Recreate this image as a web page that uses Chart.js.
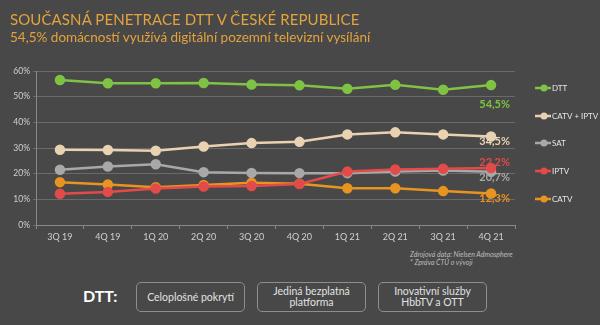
<!DOCTYPE html>
<html>
<head>
<meta charset="utf-8">
<script src="https://cdn.jsdelivr.net/npm/chart.js@4/dist/chart.umd.min.js"></script>
<style>
  html,body{margin:0;padding:0;}
  body{width:600px;height:325px;background:#484848;position:relative;overflow:hidden;font-family:Lato, "Noto Sans", sans-serif;}
  #wrap{position:absolute;left:0;top:0;width:600px;height:250px;}
  .t1{position:absolute;left:10px;top:10px;color:#e3a33d;font-size:15px;letter-spacing:0.1px;white-space:nowrap;}
  .t2{position:absolute;left:10px;top:29px;color:#e3a33d;font-size:13.5px;white-space:nowrap;}
  .fn{position:absolute;left:410px;color:#bdbdbd;font-size:7px;font-style:italic;white-space:nowrap;}
  .dtt{position:absolute;left:83px;top:286px;color:#ffffff;font-weight:bold;font-size:16px;}
  .box{position:absolute;top:282px;width:107px;height:28px;border:1px solid #8e8e8e;border-radius:5px;color:#e2e2e2;font-size:10.5px;display:flex;align-items:center;justify-content:center;text-align:center;line-height:11px;}
</style>
</head>
<body>
<div id="wrap"><canvas id="c" width="600" height="250"></canvas></div>
<div class="t1">SOUČASNÁ PENETRACE DTT V ČESKÉ REPUBLICE</div>
<div class="t2">54,5% domácností využívá digitální pozemní televizní vysílání</div>
<div class="fn" style="top:250px">Zdrojová data: Nielsen Admosphere</div>
<div class="fn" style="top:258px">* Zpráva ČTÚ o vývoji</div>
<div class="dtt">DTT:</div>
<div class="box" style="left:136px">Celoplošné pokrytí</div>
<div class="box" style="left:257px">Jediná bezplatná<br>platforma</div>
<div class="box" style="left:378px">Inovativní služby<br>HbbTV a OTT</div>
<script>
const categories = ["3Q 19","4Q 19","1Q 20","2Q 20","3Q 20","4Q 20","1Q 21","2Q 21","3Q 21","4Q 21"];
const seriesNames = ["DTT","CATV + IPTV","SAT","IPTV","CATV"];
const dtt      = [56.5,55.2,55.2,55.3,54.7,54.4,53.1,54.6,52.7,54.5];
const catvIptv = [29.3,29.2,28.9,30.6,31.9,32.4,35.3,36.1,35.3,34.5];
const sat      = [21.5,22.8,23.7,20.6,20.3,20.2,20.2,20.8,21.2,20.7];
const iptv     = [12.2,12.9,14.2,15.0,15.2,16.0,20.8,21.6,21.9,22.2];
const catv     = [16.7,15.8,14.7,15.6,16.5,16.1,14.3,14.3,13.2,12.3];
const endLabels = ["54,5%","34,5%","20,7%","22,2%","12,3%"];
const yTicks = [0,10,20,30,40,50,60];

const colors = ["#7fc244","#e9d2b2","#a8a8a8","#e34b4b","#e99320"];
const labelOffsets = [19, 5, 6, -6, 5];
const legendY = [88,116,143,171,199];

const values = [dtt, catvIptv, sat, iptv, catv];
const datasets = seriesNames.map((n,i)=>({
  label:n, data:values[i], borderColor:colors[i], backgroundColor:colors[i],
  pointBackgroundColor:colors[i], pointBorderColor:colors[i],
  borderWidth:2.5, pointRadius:4, pointHoverRadius:4, tension:0, order: [1,2,4,3,5][i]
}));

const overlay = {
  id:'overlay',
  afterDatasetsDraw(chart){
    const ctx = chart.ctx;
    ctx.save();
    ctx.font = 'bold 11px Lato, "Noto Sans", sans-serif';
    ctx.textAlign = 'right';
    ctx.textBaseline = 'middle';
    chart.data.datasets.forEach((ds,i)=>{
      const meta = chart.getDatasetMeta(i);
      const p = meta.data[meta.data.length-1];
      ctx.fillStyle = colors[i];
      ctx.fillText(endLabels[i], 510, p.y + labelOffsets[i]);
    });
    ctx.font = '8px Lato, "Noto Sans", sans-serif';
    ctx.textAlign = 'left';
    chart.data.datasets.forEach((ds,i)=>{
      const y = legendY[i];
      ctx.strokeStyle = colors[i];
      ctx.lineWidth = 2.5;
      ctx.beginPath(); ctx.moveTo(535,y); ctx.lineTo(551,y); ctx.stroke();
      ctx.fillStyle = colors[i];
      ctx.beginPath(); ctx.arc(544,y,3.5,0,Math.PI*2); ctx.fill();
      ctx.fillStyle = '#e6e6e6';
      ctx.fillText(ds.label, 552, y+0.5);
    });
    ctx.restore();
  }
};

new Chart(document.getElementById('c'), {
  type:'line',
  data:{labels:categories, datasets},
  options:{
    responsive:false, animation:false,
    layout:{padding:{top:71, right:85, left:0, bottom:0}},
    plugins:{legend:{display:false}, tooltip:{enabled:false}},
    scales:{
      x:{
        offset:true,
        grid:{display:true, drawOnChartArea:false, drawTicks:true, tickLength:4, color:'#8a8a8a', offset:true},
        border:{display:true, color:'#8a8a8a'},
        ticks:{color:'#d0d0d0', font:{size:9, family:'Lato, "Noto Sans", sans-serif'}, padding:3, maxRotation:0},
        afterFit(s){ s.height = 25; }
      },
      y:{
        min:0, max:60,
        afterBuildTicks(s){ s.ticks = yTicks.map(v=>({value:v})); },
        grid:{color:'#6a6a6a', lineWidth:1, tickLength:3},
        border:{display:true, color:'#8a8a8a'},
        ticks:{color:'#d0d0d0', font:{size:8.5, family:'Lato, "Noto Sans", sans-serif'}, padding:3, callback:v=>v+'%'},
        afterFit(s){ s.width = 36; }
      }
    }
  },
  plugins:[overlay]
});
</script>
</body>
</html>
